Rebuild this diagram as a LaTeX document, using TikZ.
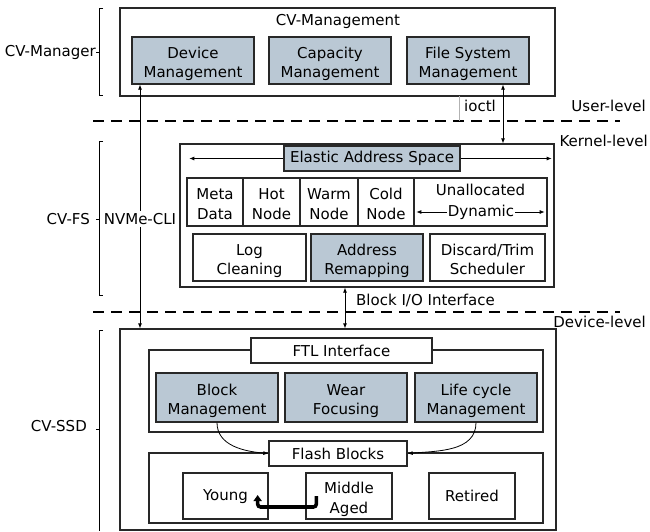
\documentclass[tikz,border=0pt]{standalone}
\usepackage{fontspec}
\setmainfont{DejaVu Sans}
\usepackage{xcolor}
\usetikzlibrary{arrows.meta, positioning}
\definecolor{boxblue}{RGB}{186,200,212}
\definecolor{edge}{RGB}{40,40,40}

\begin{document}
\begin{tikzpicture}[x=1pt,y=-1pt,
    every node/.style={font=\fontsize{15}{19.5}\selectfont, align=center, inner sep=1pt},
    box/.style={draw=edge, line width=1.3pt, fill=white},
    blu/.style={box, fill=boxblue},
    two/.style={text height=34pt, text depth=0pt},
    lvl/.style={draw=black, line width=2.6pt, dash pattern=on 11pt off 7pt},
    conn/.style={line width=0.8pt, {Latex[length=5pt,width=4pt]}-{Latex[length=5pt,width=4pt]}},
    brk/.style={line width=0.9pt}]
    \useasboundingbox (0,0) rectangle (650,531);

    % user level
    \node[box, minimum width=435pt, minimum height=88pt] (mgmt) at (337.5,52) {};
    \node (mgmttitle) at (338,21) {CV-Management};
    \node[blu, two, minimum width=122pt, minimum height=47pt] (devmgmt) at (193,60.5) {Device\\Management};
    \node[blu, two, minimum width=122pt, minimum height=47pt] (capmgmt) at (330,60.5) {Capacity\\Management};
    \node[blu, two, minimum width=122pt, minimum height=47pt] (fsmgmt) at (468,60.5) {File System\\Management};

    % kernel level
    \node[box, minimum width=374pt, minimum height=143pt] (fs) at (367,215.5) {};
    \node[blu, minimum width=176pt, minimum height=25pt] (eas) at (372,158.5) {Elastic Address Space};
    \draw[line width=0.8pt, -{Latex[length=5pt,width=4pt]}] (eas.west) -- ([xshift=10pt]fs.west |- eas.west);
    \draw[line width=0.8pt, -{Latex[length=5pt,width=4pt]}] (eas.east) -- ([xshift=-3pt]fs.east |- eas.east);
    \node[box, two, minimum width=56pt, minimum height=48pt] (meta) at (215,202) {Meta\\Data};
    \node[box, two, minimum width=57pt, minimum height=48pt] (hot) at (271.5,202) {Hot\\Node};
    \node[box, two, minimum width=58pt, minimum height=48pt] (warm) at (329,202) {Warm\\Node};
    \node[box, two, minimum width=56pt, minimum height=48pt] (cold) at (386,202) {Cold\\Node};
    \node[box, minimum width=133pt, minimum height=48pt] (unalloc) at (480.5,202) {};
    \node (unal) at (480.5,190) {Unallocated};
    \node (dyn) at (481,212) {Dynamic};
    \draw[line width=0.8pt, -{Latex[length=5pt,width=4pt]}] (dyn.west) -- ([xshift=3pt]unalloc.west |- dyn.west);
    \draw[line width=0.8pt, -{Latex[length=5pt,width=4pt]}] (dyn.east) -- ([xshift=-3pt]unalloc.east |- dyn.east);
    \node[box, two, minimum width=113pt, minimum height=47pt] (logc) at (249.5,257.5) {Log\\Cleaning};
    \node[blu, two, minimum width=112pt, minimum height=47pt] (remap) at (367,257.5) {Address\\Remapping};
    \node[box, two, minimum width=115pt, minimum height=47pt] (discard) at (487.5,257.5) {Discard/Trim\\Scheduler};

    % device level
    \node[box, minimum width=436pt, minimum height=201pt] (ssd) at (338,429.5) {};
    \node[box, minimum width=394pt, minimum height=82pt] (ftlgrp) at (346,391) {};
    \node[box, minimum width=181pt, minimum height=25pt] (ftl) at (341.5,350.5) {FTL Interface};
    \node[blu, two, minimum width=122pt, minimum height=49pt] (blockm) at (217,397.5) {Block\\Management};
    \node[blu, two, minimum width=122pt, minimum height=49pt] (wear) at (346,397.5) {Wear\\Focusing};
    \node[blu, two, minimum width=122pt, minimum height=49pt] (life) at (476,397.5) {Life cycle\\Management};
    \node[box, minimum width=394pt, minimum height=70pt] (flashgrp) at (346,488) {};
    \node[box, minimum width=138pt, minimum height=25pt] (flash) at (338,453.5) {Flash Blocks};
    \node[box, text depth=1pt, minimum width=85pt, minimum height=46pt] (young) at (225.5,496) {Young};
    \node[box, two, minimum width=86pt, minimum height=46pt] (middle) at (349,496) {Middle\\Aged};
    \node[box, minimum width=86pt, minimum height=46pt] (retired) at (472,496) {Retired};
    \draw[line width=0.8pt, -{Latex[length=5pt,width=4pt]}] (blockm.south) to[out=-90,in=175] (flash.west);
    \draw[line width=0.8pt, -{Latex[length=5pt,width=4pt]}] (life.south) to[out=-90,in=5] (flash.east);
    \draw[line width=3.6pt, rounded corners=3pt, -{Triangle[length=6pt,width=8pt]}]
        ([xshift=11pt]middle.west) -- ++(0,11) -| ([xshift=-11pt,yshift=1pt]young.east);

    % levels
    \draw[lvl] (93,121) -- (620,121);
    \draw[lvl] (93,312) -- (620,312);
    \node[anchor=east] (user) at (647,106) {User-level};
    \node[anchor=east] (kernel) at (649,141) {Kernel-level};
    \node[anchor=east] (device) at (647,322) {Device-level};

    % interfaces
    \node (nvme) at (140,219) {};
    \draw[conn] (devmgmt.south -| nvme) -- (ssd.north -| nvme);
    \node[fill=white, inner sep=2pt] (nvmelbl) at (140,219) {NVMe-CLI};
    \coordinate (io) at (503,121);
    \draw[draw=black!30, line width=0.6pt] (459,96) -- (459,121);
    \node[anchor=west] (ioctl) at (463,106) {ioctl};
    \draw[conn] (fsmgmt.south -| io) -- (fs.north -| io);
    \coordinate (bio) at (345,300);
    \draw[conn] (fs.south -| bio) -- (ssd.north -| bio);
    \node[anchor=west] (biolbl) at (355,300) {Block I/O Interface};

    % brackets
    \draw[brk] (103,8) -- (99,8) -- (99,95) -- (103,95);
    \draw[brk] (96,52) -- (99,52);
    \node[anchor=east, inner sep=0pt] (mgr) at (96,52) {CV-Manager};
    \draw[brk] (103,141) -- (99,141) -- (99,295) -- (103,295);
    \draw[brk] (96,219) -- (99,219);
    \node[anchor=east] (cvfs) at (91,219) {CV-FS};
    \draw[brk] (103,330) -- (99,330) -- (99,531);
    \draw[brk] (96,429) -- (99,429);
    \node[anchor=east] (cvssd) at (88,426) {CV-SSD};
\end{tikzpicture}
\end{document}
